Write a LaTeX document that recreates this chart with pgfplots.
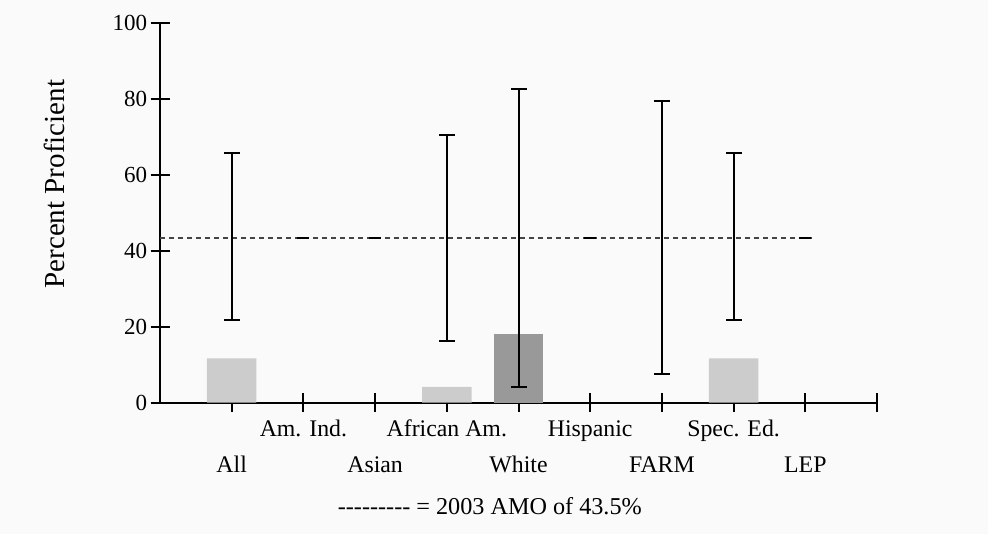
\documentclass[border=0pt]{standalone}
\usepackage{pgfplots}
\pgfplotsset{compat=1.18}
\usepackage{fontspec}
\setmainfont{Liberation Serif}
\definecolor{bglight}{HTML}{FAFAFA}
\definecolor{barlight}{HTML}{CCCCCC}
\definecolor{bardark}{HTML}{999999}
\definecolor{dashc}{HTML}{444444}
\begin{document}
\begin{tikzpicture}
\fill[bglight] (0,0) rectangle (494pt,267pt);
\useasboundingbox (0,0) rectangle (494pt,267pt);
\begin{axis}[
  at={(80pt,65.65pt)}, anchor=south west,
  scale only axis, width=358.5pt, height=189.7pt,
  xmin=-1, xmax=9, ymin=0, ymax=100,
  clip=false,
  axis x line=bottom, axis y line=left,
  axis line style={-, line width=1pt, black},
  every tick/.style={black, line width=1pt},
  tick align=center, major tick length=9.5pt,
  xtick={0,...,9}, ytick={0,20,...,100},
  xticklabels={All, \raisebox{17.85pt}{Am. Ind.}, Asian, \raisebox{17.85pt}{African Am.}, White, \raisebox{17.85pt}{Hispanic}, FARM, \raisebox{17.85pt}{Spec. Ed.}, LEP, {}},
  xticklabel style={font=\fontsize{11.9}{14}\selectfont, anchor=base, yshift=-30pt},
  yticklabel style={font=\fontsize{11.5}{13}\selectfont, anchor=east, xshift=1.8pt},
  /pgf/number format/assume math mode=true,
  ylabel={Percent Proficient},
  ylabel style={font=\fontsize{14.5}{17}\selectfont, at={(rel axis cs:-0.147,0.576)}, anchor=center, rotate=0},
]
\addplot[ybar, bar width=0.69, bar shift=0pt, fill=barlight, draw=none] coordinates {(0,11.7) (3,4.2) (7,11.7)};
\addplot[ybar, bar width=0.69, bar shift=0pt, fill=bardark, draw=none] coordinates {(4,18.1)};
\addplot[dashc, line width=0.85pt, dash pattern=on 2.5pt off 2pt] coordinates {(-1,43.5) (8.1,43.5)};
\addplot[black, line width=1pt, mark=-, mark size=4pt, unbounded coords=jump] coordinates {
  (0,21.8) (0,65.7) (0,nan)
  (3,16.3) (3,70.5) (3,nan)
  (4,4.2) (4,82.6) (4,nan)
  (6,7.5) (6,79.4) (6,nan)
  (7,21.8) (7,65.7)
};
\addplot[only marks, black, line width=1pt, mark=-, mark size=3pt] coordinates {(1,43.5) (2,43.5) (5,43.5) (8,43.5)};
\node[font=\fontsize{12.1}{14}\selectfont] at (rel axis cs:0.46,-0.272) {-{}-{}-{}-{}-{}-{}-{}-{}- = 2003 AMO of 43.5\%};
\end{axis}
\end{tikzpicture}
\end{document}
